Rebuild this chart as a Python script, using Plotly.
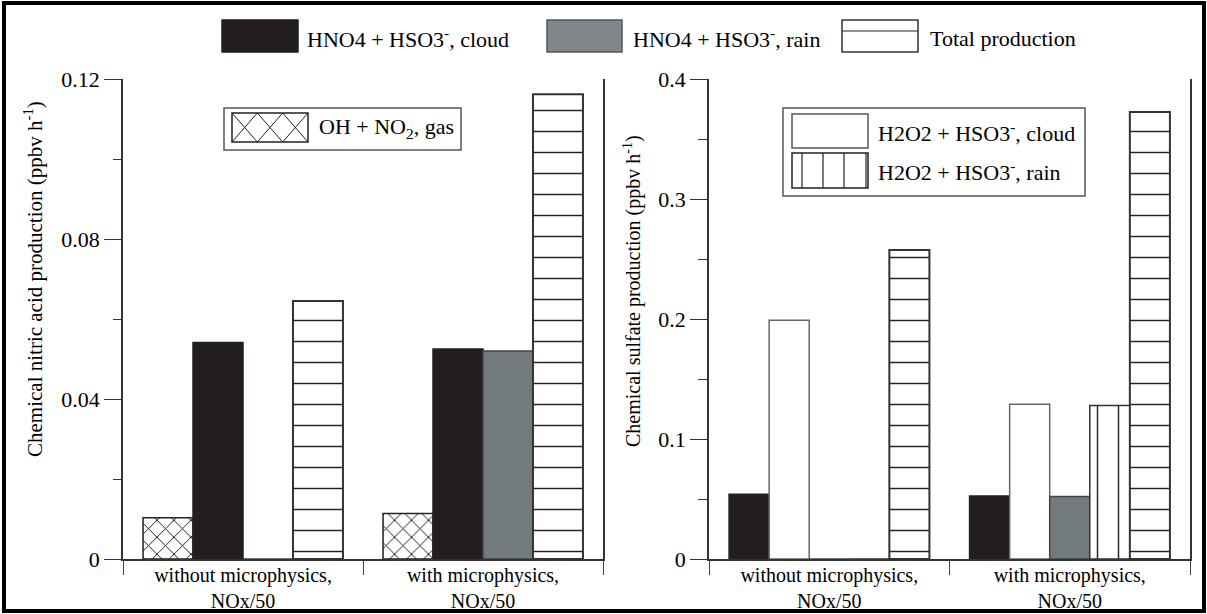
import plotly.graph_objects as go

W, H = 1207, 614

# ---------------- data ----------------
categories = ["without microphysics,<br>NOx/50", "with microphysics,<br>NOx/50"]

# left panel: nitric acid production (ppbv h-1)
oh_no2_gas = [0.0103, 0.0114]
hno4_cloud_n = [0.0541, 0.0525]
hno4_rain_n = [0.0, 0.0520]
total_n = [0.0645, 0.1162]

# right panel: sulfate production (ppbv h-1)
hno4_cloud_s = [0.0540, 0.0525]
h2o2_cloud_s = [0.1990, 0.1290]
hno4_rain_s = [0.0, 0.0520]
h2o2_rain_s = [0.0, 0.1280]
total_s = [0.2575, 0.3725]

left_yticks = [0, 0.04, 0.08, 0.12]
left_yticktext = ["0", "0.04", "0.08", "0.12"]
right_yticks = [0, 0.1, 0.2, 0.3, 0.4]
right_yticktext = ["0", "0.1", "0.2", "0.3", "0.4"]

FONT = "Liberation Serif"
BLACK = "#231f20"
GRAY = "#737a7d"


def px(x):
    return x / W


def py(y):
    return 1 - y / H


def bar(x, y, xa, ya, color, line_color, line_w=1.5, pattern=None):
    b = go.Bar(x=x, y=y, xaxis=xa, yaxis=ya, showlegend=False,
               marker=dict(color=color, line=dict(color=line_color, width=line_w)))
    if pattern:
        b.marker.pattern = pattern
    return b


fig = go.Figure()

# left panel
fig.add_trace(bar(categories, oh_no2_gas, "x", "y", "white", "#222",
                  pattern=dict(shape="x", fgcolor="#111", bgcolor="white", size=12, solidity=0.15)))
fig.add_trace(bar(categories, hno4_cloud_n, "x", "y", BLACK, BLACK))
fig.add_trace(bar(categories, hno4_rain_n, "x", "y", GRAY, "#444"))
fig.add_trace(bar(categories, total_n, "x", "y", "white", "#333", line_w=2,
                  pattern=dict(shape="-", fgcolor="#222", bgcolor="white", size=21, solidity=0.07)))

# right panel
fig.add_trace(bar(categories, hno4_cloud_s, "x2", "y2", BLACK, BLACK))
fig.add_trace(bar(categories, h2o2_cloud_s, "x2", "y2", "white", "#666"))
fig.add_trace(bar(categories, hno4_rain_s, "x2", "y2", GRAY, "#444"))
fig.add_trace(bar(categories, h2o2_rain_s, "x2", "y2", "white", "#333",
                  pattern=dict(shape="|", fgcolor="#222", bgcolor="white", size=21, solidity=0.07)))
fig.add_trace(bar(categories, total_s, "x2", "y2", "white", "#333", line_w=2,
                  pattern=dict(shape="-", fgcolor="#222", bgcolor="white", size=21, solidity=0.07)))

ydom = [py(559), py(79)]
xaxis_common = dict(type="category", showgrid=False, zeroline=False, showline=True,
                    linecolor="#333", linewidth=1.5, ticks="outside", tickson="boundaries",
                    ticklen=14, tickcolor="#444", tickwidth=1.2, automargin=False,
                    tickfont=dict(family=FONT, size=20, color="black"),
                    ticklabelstandoff=-3)
yaxis_common = dict(showgrid=False, zeroline=False, showline=True, mirror=True,
                    linecolor="#333", linewidth=1.5, ticks="outside", ticklen=17,
                    tickcolor="#333", tickwidth=1.2, automargin=False,
                    tickfont=dict(family=FONT, size=22, color="black"),
                    domain=ydom)

fig.update_layout(
    template="none",
    width=W, height=H,
    margin=dict(l=0, r=0, t=0, b=0, autoexpand=False),
    paper_bgcolor="white", plot_bgcolor="white",
    barmode="group", bargap=0.167, bargroupgap=0,
    showlegend=False,
    xaxis=dict(xaxis_common, domain=[px(123), px(603)], anchor="y"),
    yaxis=dict(yaxis_common, range=[0, 0.12], tickvals=left_yticks, ticktext=left_yticktext,
               anchor="x",
               minor=dict(ticks="outside", ticklen=8, dtick=0.02, tickcolor="#333", tickwidth=1.2)),
    xaxis2=dict(xaxis_common, domain=[px(709), px(1190)], anchor="y2"),
    yaxis2=dict(yaxis_common, range=[0, 0.4], tickvals=right_yticks, ticktext=right_yticktext,
                anchor="x2",
                minor=dict(ticks="outside", ticklen=9, dtick=0.05, tickcolor="#333", tickwidth=1.2)),
)

shapes = []
annotations = []


def rect(x0, y0, x1, y1, fill="white", line="#333", w=1.5):
    shapes.append(dict(type="rect", xref="paper", yref="paper",
                       x0=px(x0), x1=px(x1), y0=py(y1), y1=py(y0),
                       fillcolor=fill, line=dict(color=line, width=w), layer="above"))


def seg(x0, y0, x1, y1, color="#222", w=1.2):
    shapes.append(dict(type="line", xref="paper", yref="paper",
                       x0=px(x0), x1=px(x1), y0=py(y0), y1=py(y1),
                       line=dict(color=color, width=w), layer="above"))


def text(x, y, s, size=22, xanchor="left", angle=0):
    annotations.append(dict(xref="paper", yref="paper", x=px(x), y=py(y), text=s,
                            showarrow=False, xanchor=xanchor, yanchor="middle",
                            textangle=angle,
                            font=dict(family=FONT, size=size, color="black")))


# figure frame
rect(4, 3, 1204, 611, fill="rgba(0,0,0,0)", line="black", w=4)

# top legend
rect(222, 20, 298, 52, fill=BLACK, line=BLACK)
text(305, 38, "HNO4 + HSO3<sup>-</sup>, cloud")
rect(547, 20, 622, 52, fill="#80868a", line="#555")
text(631, 38, "HNO4 + HSO3<sup>-</sup>, rain")
rect(842, 20, 918, 52, fill="white", line="#333")
seg(842, 31, 918, 31)
text(928, 38, "Total production")

# left inset legend
rect(224, 108, 461, 150, fill="white", line="#555")
rect(232, 113, 308, 142, fill="white", line="#222")
cw = (308 - 232) / 3
for i in range(3):
    xa = 232 + i * cw
    seg(xa, 113, xa + cw, 142, w=1)
    seg(xa + cw, 113, xa, 142, w=1)
text(317, 128, "OH + NO<sub>2</sub>, gas")

# right inset legend
rect(783, 108, 1085, 196, fill="white", line="#555")
rect(792, 114, 868, 148, fill="white", line="#555")
text(876, 132, "H2O2 + HSO3<sup>-</sup>, cloud")
rect(792, 153, 868, 188, fill="white", line="#222")
for xv in (802, 823, 844, 866):
    seg(xv, 153, xv, 188, w=1.2)
text(876, 171, "H2O2 + HSO3<sup>-</sup>, rain")

# axis titles
text(33, 279, "Chemical nitric acid production (ppbv h<sup>-1</sup>)", size=21,
     xanchor="center", angle=-90)
text(632, 291, "Chemical sulfate production (ppbv h<sup>-1</sup>)", size=20,
     xanchor="center", angle=-90)

fig.update_layout(shapes=shapes, annotations=annotations)

fig.write_html("out.html", config={"displayModeBar": False},
               post_script="document.body.style.margin='0';document.body.style.overflow='hidden';")
